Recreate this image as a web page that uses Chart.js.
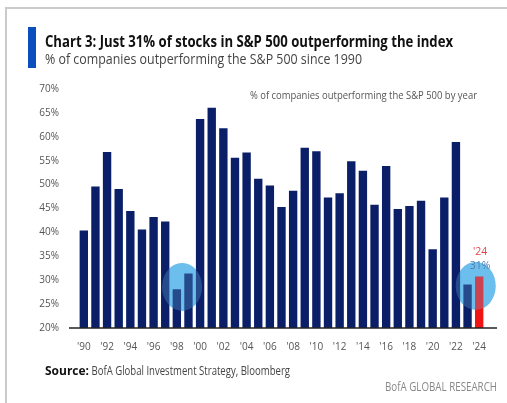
<!DOCTYPE html>
<html>
<head>
<meta charset="utf-8">
<script src="https://cdn.jsdelivr.net/npm/chart.js@4/dist/chart.umd.min.js"></script>
<style>
  body { margin: 0; background: #fff; }
  canvas { display: block; }
</style>
</head>
<body>
<canvas id="chart" width="507" height="403"></canvas>
<script>
// data
const years = ["'90","'91","'92","'93","'94","'95","'96","'97","'98","'99",
               "'00","'01","'02","'03","'04","'05","'06","'07","'08","'09",
               "'10","'11","'12","'13","'14","'15","'16","'17","'18","'19",
               "'20","'21","'22","'23","'24"];
const pctOutperforming = [40.4, 49.6, 56.8, 49.1, 44.5, 40.6, 43.2, 42.3, 28.1, 31.4,
                          63.7, 66.1, 61.8, 55.6, 56.7, 51.2, 49.8, 45.3, 48.7, 57.7,
                          57.0, 47.3, 48.2, 54.9, 52.9, 45.8, 53.9, 44.9, 45.5, 46.6,
                          36.5, 47.3, 58.9, 29.1, 30.8];
const yTicks = [20, 25, 30, 35, 40, 45, 50, 55, 60, 65, 70];

const titleText = 'Chart 3: Just 31% of stocks in S&P 500 outperforming the index';
const subtitleText = '% of companies outperforming the S&P 500 since 1990';
const legendText = '% of companies outperforming the S&P 500 by year';
const sourceLabel = 'Source:';
const sourceText = ' BofA Global Investment Strategy, Bloomberg';
const brandText = 'BofA GLOBAL RESEARCH';
const lastYearLabel = "'24";
const lastValueLabel = '31%';

// highlight circles: [category index, value]
const highlights = [[8.45, 28.6], [33.7, 28.8]];

const NAVY = '#0b1f68';
const RED = '#f01414';
const FONT = '"Open Sans", sans-serif';

const barColors = pctOutperforming.map((v, i) => i === pctOutperforming.length - 1 ? RED : NAVY);

const frame = {
    id: 'frame',
    beforeDraw(chart) {
        const ctx = chart.ctx;
        ctx.save();
        ctx.fillStyle = '#fff';
        ctx.fillRect(0, 0, chart.width, chart.height);
        ctx.strokeStyle = '#cacaca';
        ctx.lineWidth = 2;
        ctx.beginPath();
        ctx.moveTo(6, 403);
        ctx.lineTo(6, 8);
        ctx.lineTo(507, 8);
        ctx.stroke();
        // blue accent
        ctx.fillStyle = '#0b4fbf';
        ctx.fillRect(28, 27, 8, 41);
        ctx.textBaseline = 'alphabetic';
        ctx.fillStyle = '#111';
        ctx.font = 'bold 16px ' + FONT;
        ctx.fillText(titleText, 45, 47, 408);
        ctx.fillStyle = '#444';
        ctx.font = '15px ' + FONT;
        ctx.fillText(subtitleText, 45, 64, 317);
        ctx.fillStyle = '#555';
        ctx.font = '10px ' + FONT;
        ctx.fillText(legendText, 250, 99, 227);
        // source
        ctx.fillStyle = '#111';
        ctx.font = 'bold 12px ' + FONT;
        ctx.fillText(sourceLabel, 45, 375, 44);
        ctx.fillStyle = '#444';
        ctx.font = '12px ' + FONT;
        ctx.fillText(sourceText, 89, 375, 201);
        ctx.fillStyle = '#888';
        ctx.font = '12px ' + FONT;
        ctx.fillText(brandText, 385, 391, 112);
        ctx.restore();
    },
    beforeDatasetsDraw(chart) {
        const ctx = chart.ctx;
        const xs = chart.scales.x, ys = chart.scales.y;
        ctx.save();
        ctx.fillStyle = 'rgb(108,190,238)';
        highlights.forEach(h => {
            ctx.beginPath();
            ctx.ellipse(xs.getPixelForValue(h[0]), ys.getPixelForValue(h[1]), 20, 24, 0, 0, Math.PI * 2);
            ctx.fill();
        });
        ctx.restore();
    },
    afterDatasetsDraw(chart) {
        const ctx = chart.ctx;
        const xs = chart.scales.x, ys = chart.scales.y;
        ctx.save();
        ctx.fillStyle = 'rgba(108,190,238,0.28)';
        highlights.forEach(h => {
            ctx.beginPath();
            ctx.ellipse(xs.getPixelForValue(h[0]), ys.getPixelForValue(h[1]), 20, 24, 0, 0, Math.PI * 2);
            ctx.fill();
        });
        // x axis line
        const yb = chart.chartArea.bottom;
        ctx.strokeStyle = '#222';
        ctx.lineWidth = 1.5;
        ctx.beginPath();
        ctx.moveTo(chart.chartArea.left - 9, yb);
        ctx.lineTo(chart.chartArea.right + 12, yb);
        ctx.stroke();
        // annotation on last bar
        const last = chart.getDatasetMeta(0).data[pctOutperforming.length - 1];
        ctx.textAlign = 'center';
        ctx.textBaseline = 'middle';
        ctx.font = '10.5px ' + FONT;
        ctx.fillStyle = '#e04848';
        ctx.fillText(lastYearLabel, last.x + 1, last.y - 24);
        ctx.fillStyle = '#4f7fae';
        ctx.fillText(lastValueLabel, last.x + 1, last.y - 10);
        ctx.restore();
    }
};

new Chart(document.getElementById('chart').getContext('2d'), {
    type: 'bar',
    data: {
        labels: years,
        datasets: [{
            data: pctOutperforming,
            backgroundColor: barColors,
            borderWidth: 0,
            categoryPercentage: 1,
            barPercentage: 0.72
        }]
    },
    options: {
        responsive: false,
        animation: false,
        layout: { padding: { top: 89, right: 22, left: 0, bottom: 0 } },
        plugins: { legend: { display: false }, tooltip: { enabled: false } },
        scales: {
            x: {
                grid: { display: false },
                border: { display: false },
                ticks: {
                    autoSkip: false,
                    maxRotation: 0,
                    padding: 5,
                    color: '#555',
                    font: { family: FONT, size: 10 },
                    callback: function (v, i) { return i % 2 === 0 ? years[i] : ''; }
                },
                afterFit: function (s) { s.height = 75; }
            },
            y: {
                min: 20,
                max: 70,
                grid: { display: false },
                border: { display: false },
                afterBuildTicks: function (s) { s.ticks = yTicks.map(v => ({ value: v })); },
                ticks: {
                    padding: 11,
                    color: '#555',
                    font: { family: FONT, size: 10 },
                    callback: v => v + '%'
                },
                afterFit: function (s) { s.width = 78; }
            }
        }
    },
    plugins: [frame]
});
</script>
</body>
</html>
